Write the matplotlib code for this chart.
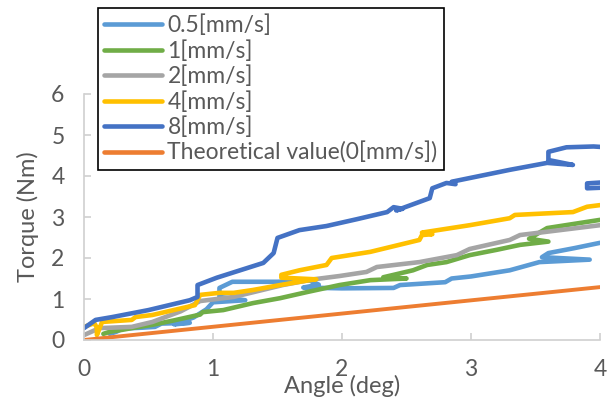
import matplotlib
matplotlib.use("Agg")
import matplotlib.pyplot as plt

# ---- data ----
labels = ["0.5[mm/s]", "1[mm/s]", "2[mm/s]", "4[mm/s]", "8[mm/s]", "Theoretical value(0[mm/s])"]
colors = ["#5B9BD5", "#70AD47", "#A5A5A5", "#FFC000", "#4472C4", "#ED7D31"]

x_05 = [0.20, 0.25, 0.30, 0.45, 0.55, 0.60, 0.82, 0.70, 0.85, 0.95, 1.00, 1.25, 1.05, 1.05, 1.15,
        1.50, 1.75, 1.82, 1.70, 2.00, 2.40, 2.45, 2.80, 2.85, 3.00, 3.30, 3.53, 3.92, 3.55, 3.60,
        3.80, 4.00]
y_05 = [0.15, 0.20, 0.28, 0.30, 0.32, 0.40, 0.42, 0.38, 0.55, 0.75, 0.92, 0.97, 1.05, 1.27, 1.42,
        1.42, 1.45, 1.35, 1.28, 1.26, 1.27, 1.34, 1.41, 1.50, 1.55, 1.70, 1.90, 1.96, 2.02, 2.12,
        2.24, 2.37]

x_1 = [0.15, 0.20, 0.30, 0.37, 0.53, 0.70, 0.90, 0.92, 1.08, 1.31, 1.52, 1.73, 1.98, 2.22, 2.50,
       2.32, 2.55, 2.66, 2.81, 2.99, 3.20, 3.38, 3.60, 3.45, 3.59, 4.00]
y_1 = [0.15, 0.20, 0.25, 0.29, 0.37, 0.48, 0.62, 0.68, 0.73, 0.90, 1.02, 1.17, 1.34, 1.46, 1.50,
       1.53, 1.70, 1.83, 1.90, 2.07, 2.20, 2.32, 2.40, 2.47, 2.73, 2.93]

x_2 = [0.00, 0.12, 0.37, 0.53, 0.75, 0.90, 1.16, 1.54, 1.78, 1.98, 2.19, 2.27, 2.60, 2.89, 2.99,
       3.30, 3.38, 3.69, 4.00]
y_2 = [0.12, 0.29, 0.32, 0.44, 0.70, 0.95, 1.05, 1.34, 1.48, 1.56, 1.66, 1.78, 1.90, 2.07, 2.22,
       2.44, 2.56, 2.68, 2.80]

x_4 = [0.00, 0.08, 0.10, 0.10, 0.14, 0.37, 0.40, 0.53, 0.86, 0.90, 1.05, 1.16, 1.31, 1.52, 1.75,
       1.80, 1.53, 1.53, 1.67, 1.88, 1.92, 2.22, 2.60, 2.62, 2.70, 2.62, 2.99, 3.30, 3.34, 3.79,
       3.90, 4.00]
y_4 = [0.32, 0.41, 0.30, 0.12, 0.44, 0.49, 0.56, 0.61, 0.85, 1.10, 1.15, 1.15, 1.22, 1.34, 1.46,
       1.48, 1.52, 1.59, 1.70, 1.83, 2.00, 2.15, 2.44, 2.56, 2.58, 2.62, 2.80, 2.97, 3.05, 3.12,
       3.25, 3.29]

x_8 = [0.00, 0.09, 0.22, 0.50, 0.82, 0.88, 0.88, 1.03, 1.39, 1.47, 1.50, 1.67, 1.88, 2.12, 2.35,
       2.40, 2.47, 2.42, 2.68, 2.70, 2.81, 2.88, 2.85, 3.30, 3.59, 3.79, 3.60, 3.60, 3.74, 3.95,
       4.05, 4.05, 3.90, 3.90, 4.05, 4.05]
y_8 = [0.29, 0.49, 0.56, 0.73, 0.97, 1.05, 1.34, 1.52, 1.88, 2.12, 2.49, 2.68, 2.78, 2.95, 3.12,
       3.24, 3.20, 3.16, 3.46, 3.70, 3.83, 3.80, 3.86, 4.15, 4.32, 4.27, 4.39, 4.59, 4.70, 4.72,
       4.70, 3.85, 3.82, 3.70, 3.72, 3.35]

x_th = [0.0, 4.0]
y_th = [0.0, 1.29]

xticks = [0, 1, 2, 3, 4]
yticks = [0, 1, 2, 3, 4, 5, 6]

series = [(x_05, y_05), (x_1, y_1), (x_2, y_2), (x_4, y_4), (x_8, y_8), (x_th, y_th)]

# ---- figure ----
plt.rcParams['font.family'] = ['Lato', 'DejaVu Sans']
fig = plt.figure(figsize=(6.14, 4.0), dpi=100)
ax = fig.add_axes([84/614, 60/400, 516/614, 246/400])

for (xs, ys), c, lab in zip(series, colors, labels):
    lw = 2.8 if lab.startswith("Theo") else 3.3
    ax.plot(xs, ys, color=c, lw=lw, label=lab, solid_joinstyle='round', solid_capstyle='round')

ax.set_xlim(0, 4)
ax.set_ylim(0, 6)
ax.set_xticks(xticks)
ax.set_yticks(yticks)
for s in ['top', 'right']:
    ax.spines[s].set_visible(False)
for s in ['left', 'bottom']:
    ax.spines[s].set_color('#D0D0D0')
    ax.spines[s].set_linewidth(1.2)
ax.tick_params(direction='in', length=5, width=1.2, color='#D0D0D0',
               labelsize=16.5, labelcolor='#595959', pad=14)

ax.set_xlabel("Angle (deg)", fontsize=17, color='#595959', va='center')
ax.xaxis.set_label_coords(0.5, -0.185)
ax.set_ylabel("Torque (Nm)", fontsize=17, color='#595959', va='center')
ax.yaxis.set_label_coords(-0.109, 0.5)

leg = fig.legend(loc='upper left', bbox_to_anchor=(98/614, 1 - 8/400),
                 fontsize=16.5, frameon=True, fancybox=False, framealpha=1,
                 edgecolor='black', handlelength=2.5, handletextpad=0.25,
                 labelspacing=0.17, borderpad=0.28, borderaxespad=0)
leg.get_frame().set_linewidth(1.2)
for t in leg.get_texts():
    t.set_color('#595959')
for l in leg.get_lines():
    l.set_linewidth(3.3)

fig.savefig("out.png", dpi=100)
